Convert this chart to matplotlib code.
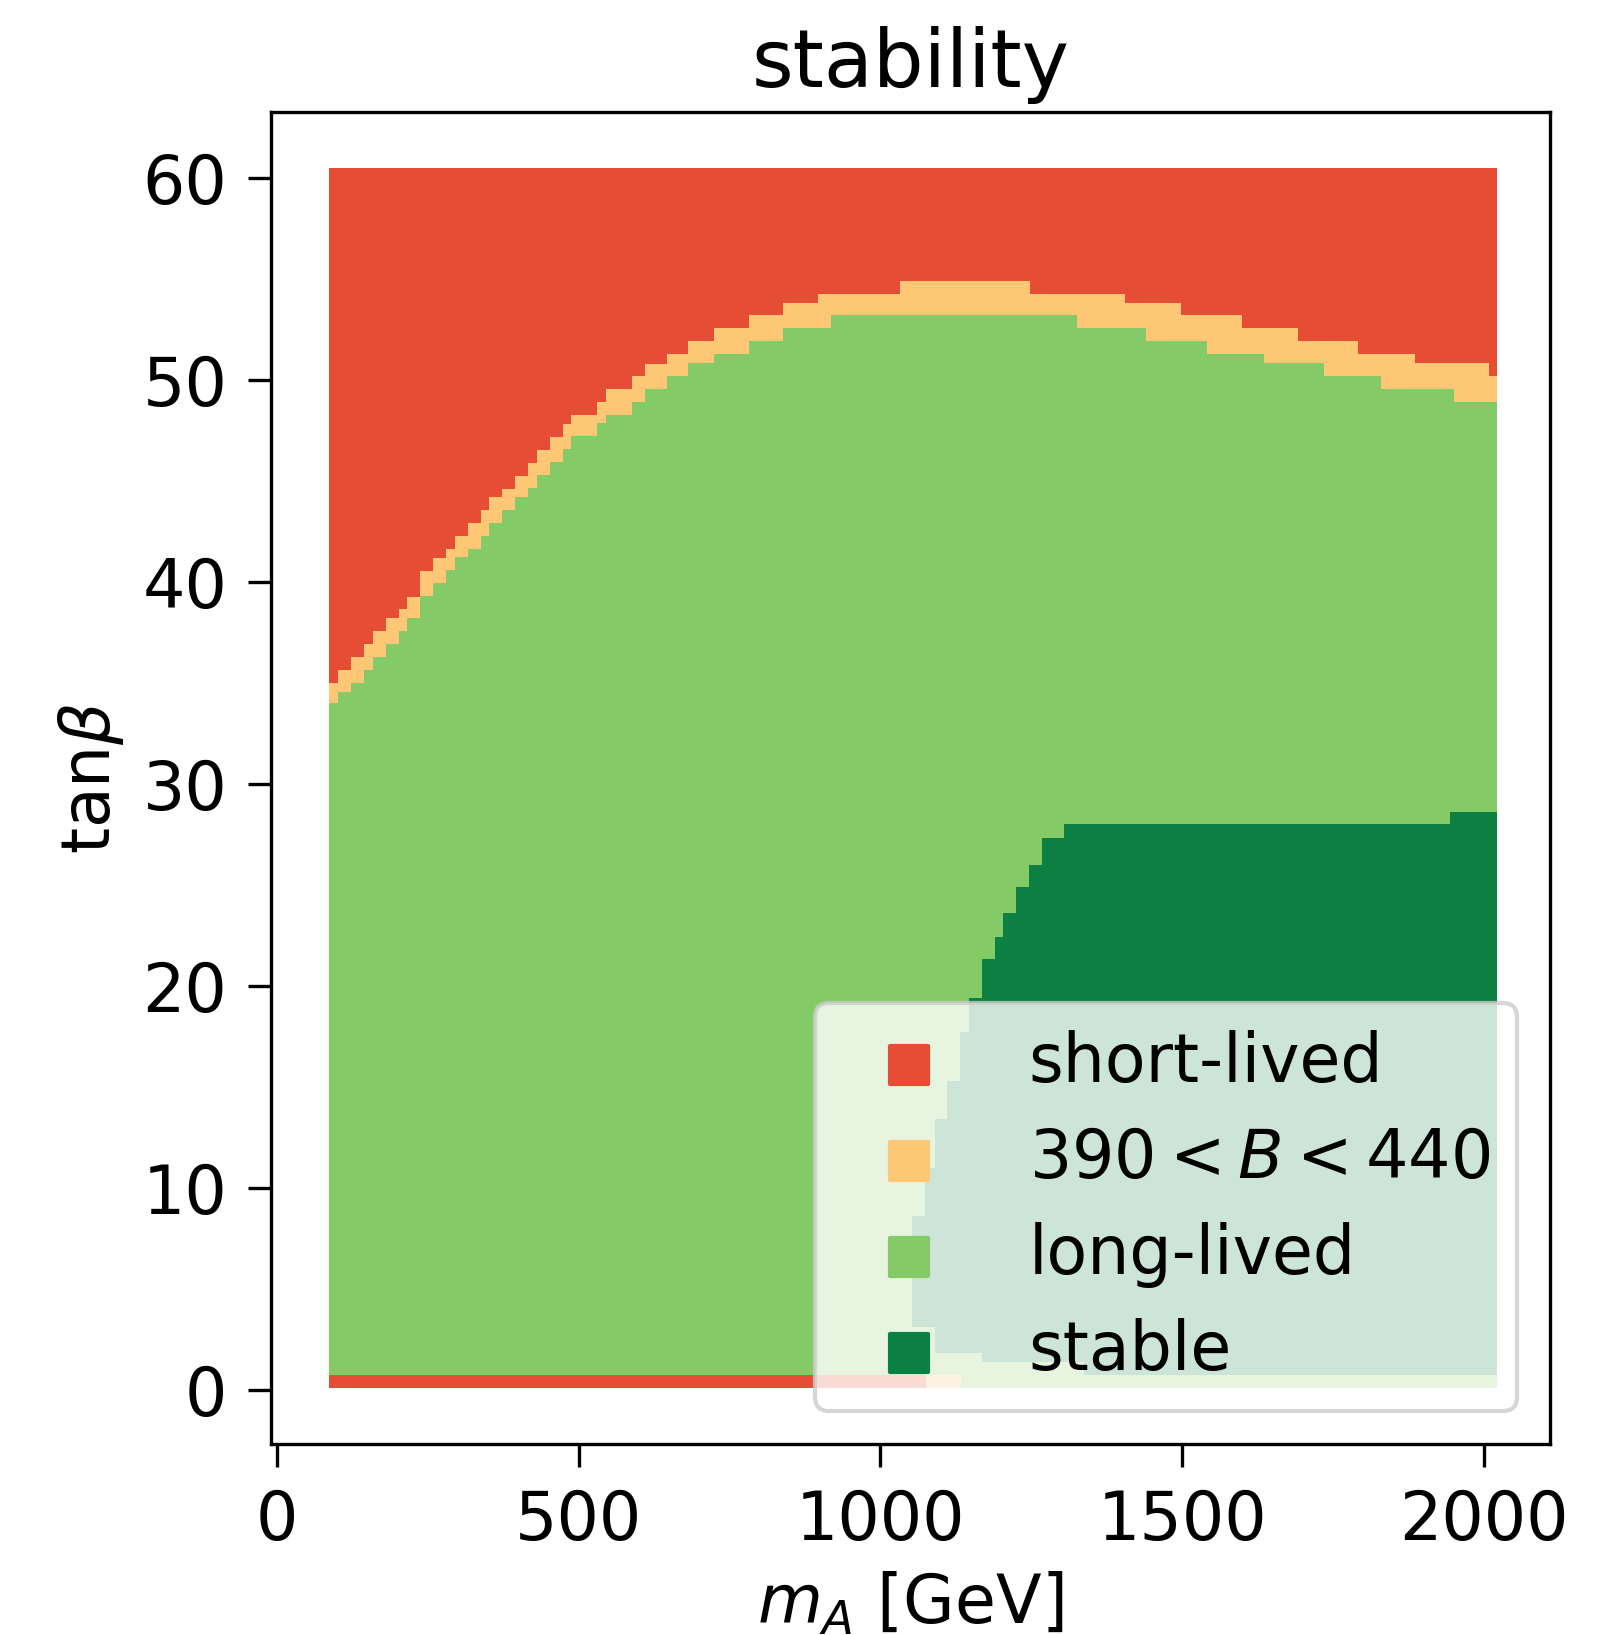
import numpy as np
import matplotlib
matplotlib.use("Agg")
import matplotlib.pyplot as plt

# ---------------------------------------------------------------------------
# Data: step boundaries between the regions
# ---------------------------------------------------------------------------
MA_MIN, MA_MAX = 85.7, 2022.4       # outer edges of the scanned grid [GeV]
TB_MIN, TB_MAX = 0.1, 60.48         # outer edges in tan(beta)
TB_ROW0 = 0.74                      # top of the lowest tan(beta) row

# column breakpoints (start of each step) and the tan(beta) boundaries there
seg_mA = [85.7, 100.6, 122.2, 143.8, 158.7, 180.3, 201.8, 215.6, 236.6, 258.2,
          279.7, 294.6, 316.2, 337.8, 351.0, 372.6, 394.2, 415.7, 430.6, 452.2,
          473.7, 487.0, 530.1, 545.0, 588.1, 609.7, 646.2, 681, 724, 782,
          838, 896, 918, 1032, 1248, 1326, 1406, 1441, 1499, 1542,
          1600, 1635, 1693, 1736, 1792, 1829, 1886, 1950, 2008]
# lower edge of the short-lived region
tb_short = [34.99, 35.63, 36.27, 36.92, 37.56, 38.20, 38.63, 39.26, 40.55, 41.17,
            41.60, 42.25, 42.89, 43.53, 44.18, 44.60, 45.25, 45.89, 46.53, 47.18,
            47.81, 48.25, 48.90, 49.54, 50.20, 50.80, 51.26, 51.90, 52.55, 53.19,
            53.81, 54.26, 54.26, 54.89, 54.26, 54.26, 53.81, 53.81, 53.19, 53.19,
            52.55, 52.55, 51.90, 51.90, 51.26, 51.26, 50.83, 50.83, 50.18]
# upper edge of the long-lived region (= lower edge of 390 < B < 440)
tb_long = [33.98, 34.56, 35.00, 35.63, 36.29, 36.93, 37.56, 38.20, 39.29, 39.94,
           40.58, 41.22, 41.62, 42.26, 42.90, 43.55, 44.19, 44.64, 45.28, 45.92,
           46.57, 47.21, 47.85, 48.25, 48.90, 49.54, 50.20, 50.83, 51.26, 51.90,
           52.56, 52.56, 53.20, 53.20, 53.20, 52.56, 52.56, 51.90, 51.90, 51.27,
           51.27, 50.84, 50.84, 50.19, 50.19, 49.54, 49.54, 48.90, 48.90]

# stable region: tan(beta) bands and the smallest m_A that is stable in each
stable_tb = [0.74, 1.37, 1.8, 3.1, 8.6, 11.0, 13.4, 15.3, 17.7, 19.4,
             21.3, 22.4, 23.6, 24.9, 26.0, 27.3, 28.0, 28.6]
stable_left = [1338, 1168, 1090, 1052, 1074, 1090, 1110, 1132, 1147, 1168,
               1190, 1203, 1225, 1246, 1268, 1304, 1944]

# lowest tan(beta) row: category changes along m_A
row0_mA = [85.7, 1075, 1134, 2022.4]
row0_cat = ["short-lived", "390 < B < 440", "long-lived"]

labels = ["short-lived", r"$390 < B < 440$", "long-lived", "stable"]

# ---------------------------------------------------------------------------
cmap = plt.cm.RdYlGn
COL = {"short-lived": cmap(0.15), "390 < B < 440": cmap(0.35),
       "long-lived": cmap(0.75), "stable": cmap(0.95)}

plt.rcParams.update({
    "font.size": 16,
    "xtick.major.size": 5.5, "ytick.major.size": 5.5,
    "xtick.major.pad": 5.0, "ytick.major.pad": 5.0,
})

fig = plt.figure(figsize=(1619 / 300, 1635 / 300), dpi=300)
ax = fig.add_axes([0.1674, 0.1168, 0.79, 0.815])

x_edges = np.array(seg_mA + [MA_MAX])
short_lo = np.array(tb_short + [tb_short[-1]])
long_hi = np.array(tb_long + [tb_long[-1]])

kw = dict(linewidth=0, step="post")
ax.fill_between([MA_MIN, MA_MAX], TB_MIN, TB_MAX, color=COL["long-lived"], lw=0)
ax.fill_between(x_edges, long_hi, TB_MAX, color=COL["390 < B < 440"], **kw)
ax.fill_between(x_edges, short_lo, TB_MAX, color=COL["short-lived"], **kw)

st_y = np.array(stable_tb)
st_x = np.array(stable_left + [stable_left[-1]])
ax.fill_betweenx(st_y, st_x, MA_MAX, color=COL["stable"], **kw)

for x0, x1, cat in zip(row0_mA[:-1], row0_mA[1:], row0_cat):
    ax.fill_between([x0, x1], TB_MIN, TB_ROW0, color=COL[cat], lw=0)

# legend proxies
for key, lab in zip(["short-lived", "390 < B < 440", "long-lived", "stable"], labels):
    ax.scatter([], [], marker="s", s=85, color=COL[key], label=lab)
ax.legend(loc="lower right", fontsize=16, labelspacing=0.45)

ax.set_xlim(-10.4, 2110)
ax.set_ylim(-2.69, 63.28)
ax.set_xticks([0, 500, 1000, 1500, 2000])
ax.set_yticks([0, 10, 20, 30, 40, 50, 60])
ax.set_xlabel(r"$m_A$ [GeV]")
ax.set_ylabel(r"tan$\beta$")
ax.set_title("stability")

fig.savefig("out.png", dpi=300)
